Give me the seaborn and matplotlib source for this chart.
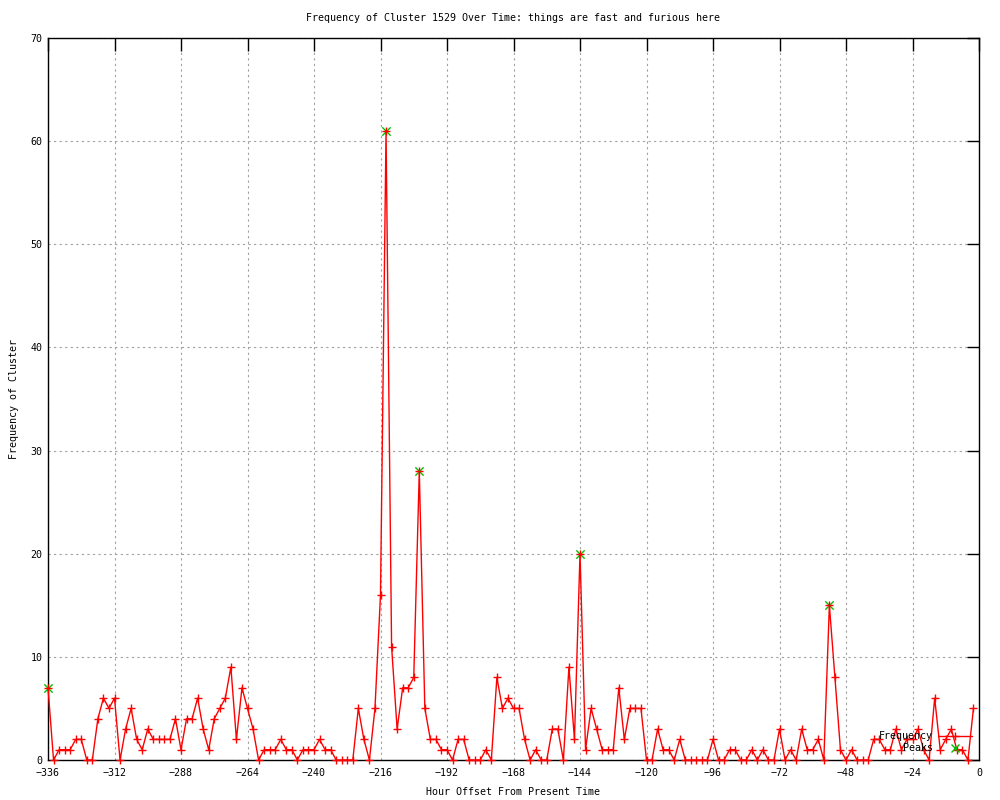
import numpy as np
import pandas as pd
import matplotlib
matplotlib.use('Agg')
import matplotlib.pyplot as plt
import seaborn as sns
from matplotlib.lines import Line2D

# hourly offsets, one reading every 2 hours
hours = list(range(-336, 0, 2))
freq = [7, 0, 1, 1, 1, 2, 2, 0, 0, 4, 6, 5, 6, 0, 3, 5, 2, 1, 3, 2,
        2, 2, 2, 4, 1, 4, 4, 6, 3, 1, 4, 5, 6, 9, 2, 7, 5, 3, 0, 1,
        1, 1, 2, 1, 1, 0, 1, 1, 1, 2, 1, 1, 0, 0, 0, 0, 5, 2, 0, 5,
        16, 61, 11, 3, 7, 7, 8, 28, 5, 2, 2, 1, 1, 0, 2, 2, 0, 0, 0, 1,
        0, 8, 5, 6, 5, 5, 2, 0, 1, 0, 0, 3, 3, 0, 9, 2, 20, 1, 5, 3,
        1, 1, 1, 7, 2, 5, 5, 5, 0, 0, 3, 1, 1, 0, 2, 0, 0, 0, 0, 0,
        2, 0, 0, 1, 1, 0, 0, 1, 0, 1, 0, 0, 3, 0, 1, 0, 3, 1, 1, 2,
        0, 15, 8, 1, 0, 1, 0, 0, 0, 2, 2, 1, 1, 3, 1, 2, 2, 3, 1, 0,
        6, 1, 2, 3, 1, 1, 0, 5]
peak_hours = [-336, -214, -202, -144, -54]
peak_vals = [7, 61, 28, 20, 15]

df = pd.DataFrame({'hour': hours, 'freq': freq})
peaks = pd.DataFrame({'hour': peak_hours, 'freq': peak_vals})

sns.set_style('white')
plt.rcParams['font.family'] = ['DejaVu Sans Mono']
plt.rcParams['font.size'] = 7.2
plt.rcParams['text.color'] = 'black'
plt.rcParams['axes.labelcolor'] = 'black'

fig = plt.figure(figsize=(10, 8), dpi=100)
ax = fig.add_axes([0.048, 0.05, 0.931, 0.9025])

sns.scatterplot(x='hour', y='freq', data=peaks, marker='x', color='#00c000',
                s=36, linewidth=1, ax=ax, clip_on=False, zorder=3)
sns.lineplot(x='hour', y='freq', data=df, color='red', linewidth=1,
             marker='+', markersize=5.5, markeredgewidth=1,
             markeredgecolor='red', ax=ax, clip_on=False, zorder=4)

ax.set_xlim(-336, 0)
ax.set_ylim(0, 70)
ax.set_xticks(range(-336, 1, 24))
ax.set_yticks(range(0, 71, 10))
ax.grid(True, color='#a0a0a0', linestyle=(0, (2, 3)), linewidth=0.8)
ax.tick_params(direction='in', length=9, width=1, top=True, right=True,
               labelsize=7.2, colors='black')
ax.tick_params(axis='x', pad=6)
ax.tick_params(axis='y', pad=4)
for sp in ax.spines.values():
    sp.set_color('black')
    sp.set_linewidth(1)

ax.text(0.5, 1.0277, 'Frequency of Cluster 1529 Over Time: things are fast and furious here',
        transform=ax.transAxes, ha='center', va='center', fontsize=7.2)
ax.set_xlabel('Hour Offset From Present Time', fontsize=7.2, labelpad=6)
ax.set_ylabel('Frequency of Cluster', fontsize=7.2, labelpad=8)

handles = [Line2D([], [], color='red', linewidth=1, marker='+', markersize=5.5),
           Line2D([], [], color='#00c000', linestyle='', marker='x', markersize=6)]
ax.legend(handles, ['Frequency', 'Peaks'], loc='lower right', frameon=False,
          markerfirst=False, fontsize=7.2, handlelength=3.4, labelspacing=0.2,
          borderaxespad=0.3, handletextpad=0.5)

fig.savefig('out.png', dpi=100)
